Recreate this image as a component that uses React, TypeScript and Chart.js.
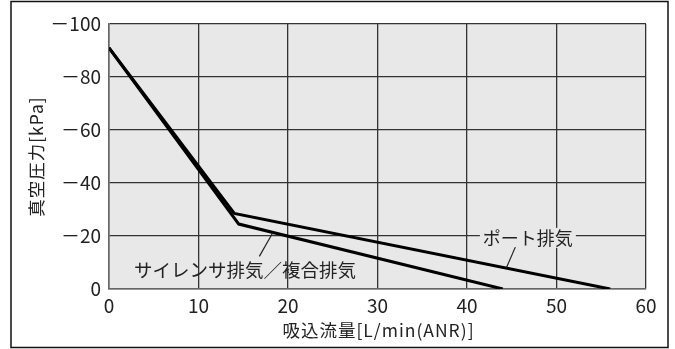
import React, { useEffect, useRef } from "react";
import { Chart, registerables } from "chart.js";

Chart.register(...registerables);

const portFlow = [0, 14, 56];
const portPressure = [-91, -28.5, 0];
const silencerFlow = [0, 14.5, 44];
const silencerPressure = [-91, -24.5, 0];

const xTicks = [0, 10, 20, 30, 40, 50, 60];
const yTicks = [0, -20, -40, -60, -80, -100];

const xTitle = "吸込流量[L/min(ANR)]";
const yTitle = "真空圧力[kPa]";
const portLabel = "ポート排気";
const silencerLabel = "サイレンサ排気／複合排気";

// annotation anchors in data units: label center, leader start, leader end
const portAnno = { label: [46.8, -19.3], from: [45.4, -15.8], to: [44.4, -8.0] };
const silencerAnno = { label: [15.2, -7.0], from: [18.3, -21.2], to: [16.8, -12.3] };

const FONT = '"Noto Sans CJK JP", "Noto Sans", sans-serif';
const PLOT_BG = "#e7e8e7";

export default function App() {
  const ref = useRef<HTMLCanvasElement>(null);
  useEffect(() => {
    document.body.style.margin = "0";
    const canvas = ref.current!;
    const bgPlugin = {
      id: "bgPlugin",
      beforeDraw(chart: any) {
        const { ctx, chartArea: a } = chart;
        ctx.save();
        ctx.fillStyle = "#ffffff";
        ctx.fillRect(0, 0, chart.width, chart.height);
        ctx.strokeStyle = "#111";
        ctx.lineWidth = 1.5;
        ctx.strokeRect(11, 1.5, 657, 346);
        ctx.fillStyle = PLOT_BG;
        ctx.fillRect(a.left, a.top, a.right - a.left, a.bottom - a.top);
        ctx.restore();
      },
      afterDraw(chart: any) {
        const { ctx, chartArea: a } = chart;
        ctx.save();
        ctx.fillStyle = "#222";
        ctx.font = `17.5px ${FONT}`;
        (ctx as any).letterSpacing = "1px";
        ctx.textAlign = "center";
        ctx.textBaseline = "middle";
        ctx.fillText(xTitle, (a.left + a.right) / 2 + 1, 330);
        ctx.translate(36, (a.top + a.bottom) / 2);
        ctx.rotate(-Math.PI / 2);
        ctx.fillText(yTitle, 0, 0);
        ctx.restore();
      },
      afterDatasetsDraw(chart: any) {
        const { ctx, scales } = chart;
        const xs = scales.x, ys = scales.y;
        const px = (p: number[]) => [xs.getPixelForValue(p[0]), ys.getPixelForValue(p[1])];
        ctx.save();
        ctx.font = `18px ${FONT}`;
        ctx.textAlign = "center";
        ctx.textBaseline = "middle";
        const [plx, ply] = px(portAnno.label);
        const w = ctx.measureText(portLabel).width;
        ctx.fillStyle = PLOT_BG;
        ctx.fillRect(plx - w / 2 - 3, ply - 10, w + 6, 20);
        ctx.fillStyle = "#222";
        ctx.fillText(portLabel, plx, ply);
        ctx.font = `18.5px ${FONT}`;
        const [slx, sly] = px(silencerAnno.label);
        ctx.fillText(silencerLabel, slx, sly);
        ctx.strokeStyle = "#222";
        ctx.lineWidth = 1.2;
        for (const an of [portAnno, silencerAnno]) {
          const [x1, y1] = px(an.from);
          const [x2, y2] = px(an.to);
          ctx.beginPath();
          ctx.moveTo(x1, y1);
          ctx.lineTo(x2, y2);
          ctx.stroke();
        }
        ctx.restore();
      },
    };
    const chart = new Chart(canvas, {
      type: "scatter",
      data: {
        datasets: [
          {
            label: portLabel,
            data: portFlow.map((x, i) => ({ x, y: portPressure[i] })),
            showLine: true,
            borderColor: "#000",
            borderWidth: 3,
            pointRadius: 0,
            tension: 0,
          },
          {
            label: silencerLabel,
            data: silencerFlow.map((x, i) => ({ x, y: silencerPressure[i] })),
            showLine: true,
            borderColor: "#000",
            borderWidth: 3,
            pointRadius: 0,
            tension: 0,
          },
        ],
      },
      options: {
        responsive: false,
        animation: false,
        layout: { padding: { top: 24, right: 29, left: 0, bottom: 0 } },
        plugins: { legend: { display: false }, tooltip: { enabled: false } },
        scales: {
          x: {
            type: "linear",
            min: 0,
            max: 60,
            afterBuildTicks: (s: any) => { s.ticks = xTicks.map((v) => ({ value: v })); },
            afterFit: (s: any) => { s.height = 60; },
            border: { display: true, color: "#666", width: 1.5 },
            grid: { color: "#333", lineWidth: 1.3, drawTicks: false },
            ticks: { color: "#222", font: { family: FONT, size: 19 }, padding: 5, maxRotation: 0 },
          },
          y: {
            type: "linear",
            min: -100,
            max: 0,
            reverse: true,
            afterBuildTicks: (s: any) => { s.ticks = yTicks.map((v) => ({ value: v })); },
            afterFit: (s: any) => { s.width = 109; },
            border: { display: true, color: "#666", width: 1.5 },
            grid: { color: "#333", lineWidth: 1.3, drawTicks: false },
            ticks: {
              color: "#222",
              font: { family: FONT, size: 19 },
              padding: 8,
              callback: (v: any) => (v === 0 ? "0" : "\uFF0D" + Math.abs(v)),
            },
          },
        },
      },
      plugins: [bgPlugin],
    } as any);
    return () => chart.destroy();
  }, []);
  return (
    <div style={{ width: 675, height: 349 }}>
      <canvas ref={ref} width={675} height={349} style={{ display: "block" }} />
    </div>
  );
}
